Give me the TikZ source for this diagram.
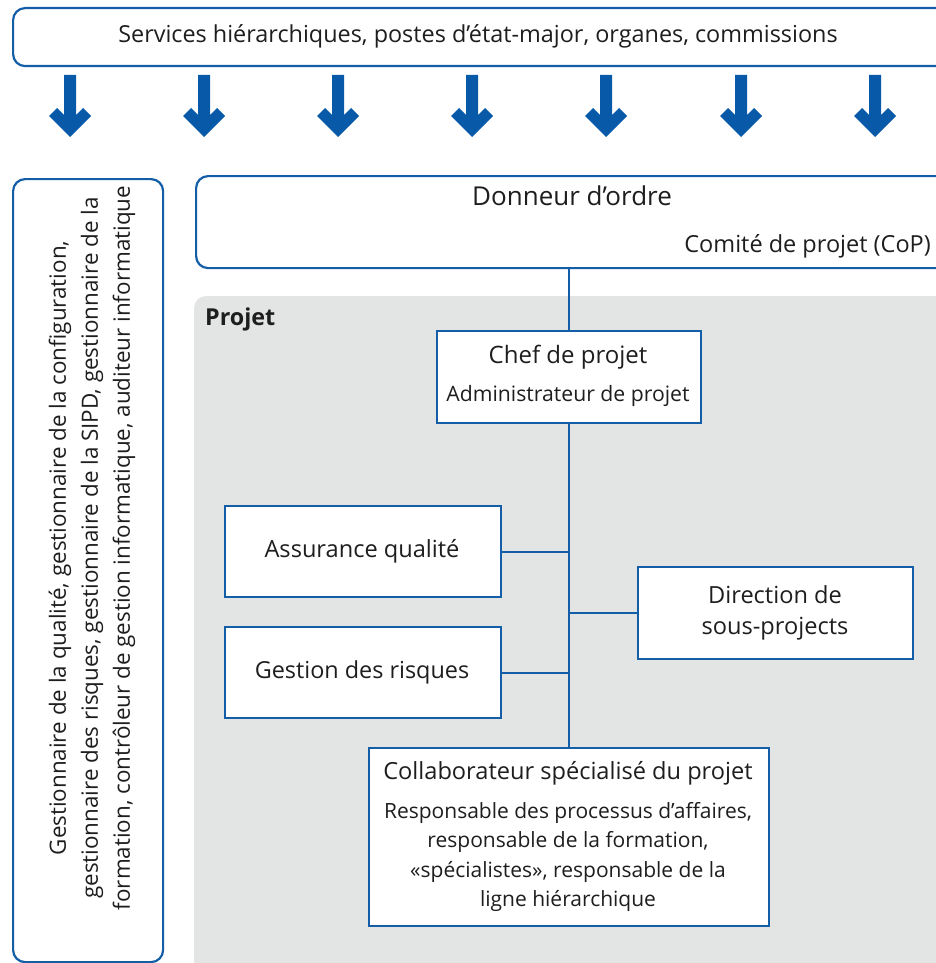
\documentclass[tikz,border=0pt]{standalone}
\usepackage{fontspec}
\setmainfont{Open Sans}
\definecolor{lineblue}{RGB}{20,94,168}
\definecolor{arrowblue}{RGB}{8,90,168}
\definecolor{projgray}{RGB}{227,229,229}
\definecolor{txt}{RGB}{30,30,30}
\tikzset{
  roundbox/.style={draw=lineblue, line width=2.2pt, rounded corners=12pt, fill=white,
    inner sep=0pt, anchor=north west},
  orgbox/.style={draw=lineblue, line width=2.2pt, fill=white, inner sep=0pt, anchor=north west},
  label/.style={text=txt, inner sep=0pt, align=center},
  link/.style={draw=lineblue, line width=2.2pt},
  downarrow/.pic={
    \fill[arrowblue] (-6,75) -- (6,75) -- (6,115) -- (13,108) -- (21,116) -- (0,137)
      -- (-21,116) -- (-13,108) -- (-6,115) -- cycle;
  }
}
\begin{document}
\begin{tikzpicture}[x=1pt,y=-1pt]
\useasboundingbox (0,0) rectangle (936,963);
\clip (0,0) rectangle (936,963);
\fill[white] (0,0) rectangle (936,963);

% top bar with the line services
\node[roundbox, minimum width=960pt, minimum height=58pt] (top) at (12,7) {};
\node[label, font=\fontsize{23.4}{28}\selectfont] (toptext) at (478,36)
  {Services hiérarchiques, postes d’état-major, organes, commissions};

% downward arrows
\foreach \cx in {70,204,338,472,606,741,875}
  \pic at (\cx,0) {downarrow};

% left box with the support roles
\node[roundbox, minimum width=150pt, minimum height=783pt] (side) at (12,178) {};
\node[label, rotate=90, font=\fontsize{22.4}{32}\selectfont] (sidetext) at (92,548)
  {Gestionnaire de la qualité, gestionnaire de la configuration,\\
   gestionnaire des risques, gestionnaire de la SIPD, gestionnaire de la\\
   formation, contrôleur de gestion informatique, auditeur informatique};

% client box
\node[roundbox, minimum width=780pt, minimum height=92pt] (donneur) at (195,175) {};
\node[label, font=\fontsize{26}{30}\selectfont] (dotext) at (572,196) {Donneur d’ordre};
\node[label, anchor=east, font=\fontsize{23.5}{28}\selectfont] (coptext) at (931,246)
  {Comité de projet (CoP)};

% project area
\fill[projgray, rounded corners=12pt] (194,296) rectangle (980,1000);
\node[label, anchor=west, font=\fontsize{23.3}{28}\selectfont\bfseries] (projet) at (205,319) {Projet};

% organisation boxes
\node[orgbox, minimum width=264pt, minimum height=92pt] (chef) at (436,330) {};
\node[label, font=\fontsize{24}{28}\selectfont] at (568,357) {Chef de projet};
\node[label, font=\fontsize{21.2}{25}\selectfont] at (568,396) {Administrateur de projet};

\node[orgbox, minimum width=276pt, minimum height=91pt] (aq) at (224,505) {};
\node[label, font=\fontsize{23.6}{28}\selectfont] at (362,551) {Assurance qualité};

\node[orgbox, minimum width=276pt, minimum height=91pt] (gr) at (224,626) {};
\node[label, font=\fontsize{23.4}{28}\selectfont] at (362,672) {Gestion des risques};

\node[orgbox, minimum width=275pt, minimum height=92pt] (dir) at (637,566) {};
\node[label, font=\fontsize{23.6}{31}\selectfont] at (775,613) {Direction de\\sous-projects};

\node[orgbox, minimum width=400pt, minimum height=178pt] (collab) at (368,747) {};
\node[label, font=\fontsize{23.6}{28}\selectfont] at (568,773) {Collaborateur spécialisé du projet};
\node[label, font=\fontsize{21}{29.5}\selectfont] at (568,857)
  {Responsable des processus d’affaires,\\
   responsable de la formation,\\
   «spécialistes», responsable de la\\
   ligne hiérarchique};

% connectors
\draw[link] (chef.north) -- (chef.north |- donneur.south);
\draw[link] (chef.south) -- (collab.north);
\draw[link] (aq.east) -- (aq.east -| chef.south);
\draw[link] (gr.east) -- (gr.east -| chef.south);
\draw[link] (dir.west) -- (dir.west -| chef.south);
\end{tikzpicture}
\end{document}
